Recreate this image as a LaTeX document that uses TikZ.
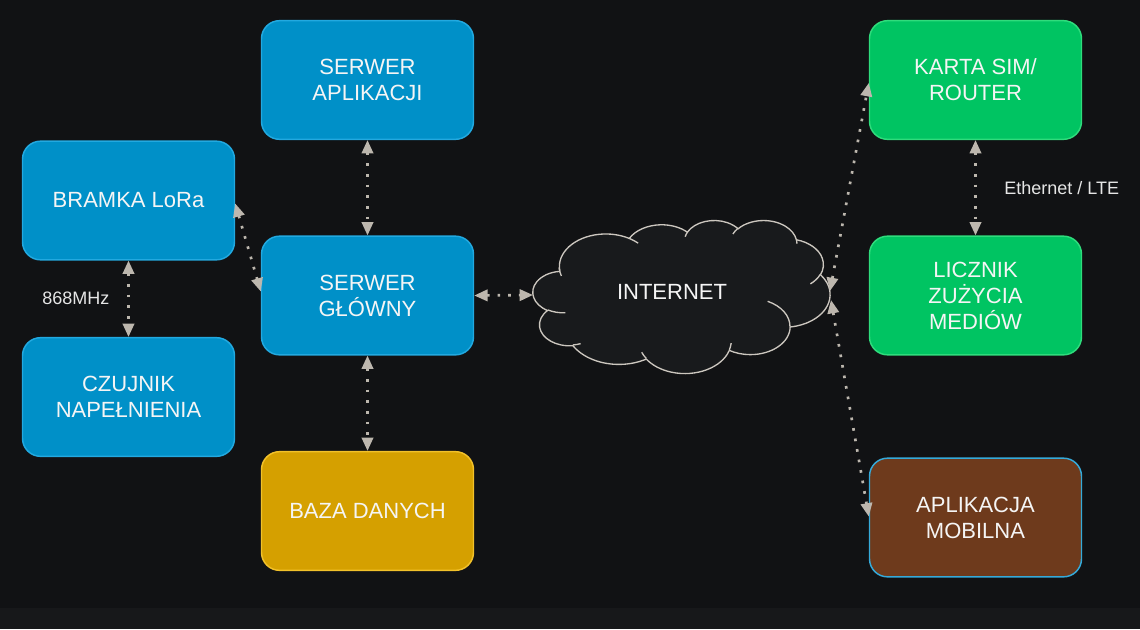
\documentclass[tikz,border=0pt]{standalone}
\usepackage{fontspec}
\setmainfont{Liberation Sans}
\usetikzlibrary{arrows.meta,calc}
\definecolor{bg}{HTML}{111214}
\definecolor{band}{HTML}{17181A}
\definecolor{bluefill}{HTML}{0090C8}
\definecolor{blueline}{HTML}{22A9E0}
\definecolor{greenfill}{HTML}{00C462}
\definecolor{greenline}{HTML}{2FDC7C}
\definecolor{yellowfill}{HTML}{D5A000}
\definecolor{yellowline}{HTML}{F2C12A}
\definecolor{brownfill}{HTML}{6E3A1C}
\definecolor{brownline}{HTML}{35AADA}
\definecolor{arrowcol}{HTML}{BDB7AE}
\definecolor{cloudfill}{HTML}{181A1C}
\definecolor{cloudline}{HTML}{CCC7BF}
\definecolor{txt}{HTML}{F5F5F5}
\definecolor{lbltxt}{HTML}{E6E6E6}
\newcommand\cloudarcdef[6]{%
  \pgfmathsetmacro#1{atan2((#3)*sin(#5),(#4)*cos(#5))}%
  \pgfmathsetmacro\cloudtmpe{atan2((#3)*sin((#5)+(#6)),(#4)*cos((#5)+(#6)))}%
  \pgfmathsetmacro#2{\cloudtmpe-#1}%
  \pgfmathsetmacro#2{#2+((#6)>0)*(#2<0)*360-((#6)<0)*(#2>0)*360}%
}
\begin{document}
\begin{tikzpicture}[x=0.75pt,y=-0.75pt,
  box/.style={rounded corners=13.5pt, line width=1.1pt, minimum width=159pt,
    minimum height=89pt, align=center, text=txt, inner sep=0pt,
    font=\fontsize{16.5}{19.5}\selectfont},
  bluebox/.style={box, fill=bluefill, draw=blueline},
  greenbox/.style={box, fill=greenfill, draw=greenline},
  yellowbox/.style={box, fill=yellowfill, draw=yellowline},
  brownbox/.style={box, fill=brownfill, draw=brownline},
  link/.style={draw=arrowcol, line width=2pt, dash pattern=on 2pt off 6pt,
    {Triangle[length=10pt,width=8.5pt]}-{Triangle[length=10pt,width=8.5pt]}},
  lbl/.style={text=lbltxt, inner sep=0pt, anchor=west,
    font=\fontsize{13.5}{16}\selectfont},
  cloudsty/.style={draw=cloudline, fill=cloudfill, line width=1pt},
  stubsty/.style={draw=cloudline, line width=1pt}
]
\fill[bg] (0,0) rectangle (1140,629);
\fill[band] (0,608) rectangle (1140,629);

% cloud (PowerPoint-style)
\begin{scope}[shift={(533,220)}, x=0.0515625pt, y=-0.0265625pt]
\cloudarcdef{\clsA}{\cldA}{675.3}{919.0}{-190.48748}{123.78053}
\cloudarcdef{\clsB}{\cldB}{533.3}{726.7}{-144.10238}{89.94523}
\cloudarcdef{\clsC}{\cldC}{436.5}{594.5}{-145.80792}{99.72302}
\cloudarcdef{\clsD}{\cldD}{485.7}{659.5}{-130.98607}{117.24173}
\cloudarcdef{\clsE}{\cldE}{533.3}{727.3}{-78.70888}{109.02692}
\cloudarcdef{\clsF}{\cldF}{677.5}{922.0}{-46.26725}{130.269}
\cloudarcdef{\clsG}{\cldG}{578.5}{786.7}{0.62502}{114.03333}
\cloudarcdef{\clsH}{\cldH}{675.2}{921.5}{22.4516}{115.17255}
\cloudarcdef{\clsI}{\cldI}{772.0}{1054.3}{66.24263}{75.71102}
\cloudarcdef{\clsJ}{\cldJ}{436.0}{591.8}{-274.94208}{146.73557}
\cloudarcdef{\clsK}{\cldK}{434.5}{594.5}{-246.8285}{152.51885}
\draw[cloudsty] (390,1437)
  arc[x radius=675.3, y radius=919.0, start angle=\clsA, delta angle=\cldA]
  arc[x radius=533.3, y radius=726.7, start angle=\clsB, delta angle=\cldB]
  arc[x radius=436.5, y radius=594.5, start angle=\clsC, delta angle=\cldC]
  arc[x radius=485.7, y radius=659.5, start angle=\clsD, delta angle=\cldD]
  arc[x radius=533.3, y radius=727.3, start angle=\clsE, delta angle=\cldE]
  arc[x radius=677.5, y radius=922.0, start angle=\clsF, delta angle=\cldF]
  arc[x radius=578.5, y radius=786.7, start angle=\clsG, delta angle=\cldG]
  arc[x radius=675.2, y radius=921.5, start angle=\clsH, delta angle=\cldH]
  arc[x radius=772.0, y radius=1054.3, start angle=\clsI, delta angle=\cldI]
  arc[x radius=436.0, y radius=591.8, start angle=\clsJ, delta angle=\cldJ]
  arc[x radius=434.5, y radius=594.5, start angle=\clsK, delta angle=\cldK]
  -- cycle;
\cloudarcdef{\stsA}{\stdA}{434.5}{594.5}{86.742}{26.4295}
\cloudarcdef{\stsB}{\stdB}{436.0}{591.8}{73.61047}{11.44747}
\cloudarcdef{\stsC}{\stdC}{675.2}{921.5}{137.62415}{14.0811}
\cloudarcdef{\stsD}{\stdD}{675.2}{921.5}{6.45327}{15.99835}
\cloudarcdef{\stsE}{\stdE}{578.5}{786.7}{-70.29235}{70.91737}
\cloudarcdef{\stsF}{\stdF}{533.3}{727.3}{30.31803}{27.7515}
\cloudarcdef{\stsG}{\stdG}{485.7}{659.5}{-13.74433}{14.8589}
\cloudarcdef{\stsH}{\stdH}{485.7}{659.5}{-149.18145}{18.19537}
\cloudarcdef{\stsI}{\stdI}{436.5}{594.5}{-163.49427}{17.68635}
\cloudarcdef{\stsJ}{\stdJ}{675.3}{919.0}{-66.70695}{12.31935}
\cloudarcdef{\stsK}{\stdK}{675.3}{919.0}{155.64718}{19.55055}
\draw[stubsty] (469.3,2617.7) arc[x radius=434.5, y radius=594.5, start angle=\stsA, delta angle=\stdA];
\draw[stubsty] (692.8,3489.9) arc[x radius=436.0, y radius=591.8, start angle=\stsB, delta angle=\stdB];
\draw[stubsty] (1647.8,3909.0) arc[x radius=675.2, y radius=921.5, start angle=\stsC, delta angle=\stdC];
\draw[stubsty] (2882.7,3475.1) arc[x radius=675.2, y radius=921.5, start angle=\stsD, delta angle=\stdD];
\draw[stubsty] (3412.9,2295.4) arc[x radius=578.5, y radius=786.7, start angle=\stsE, delta angle=\stdE];
\draw[stubsty] (4179.8,1535.4) arc[x radius=533.3, y radius=727.3, start angle=\stsF, delta angle=\stdF];
\draw[stubsty] (3832.4,542.6) arc[x radius=485.7, y radius=659.5, start angle=\stsG, delta angle=\stdG];
\draw[stubsty] (2907.8,395.2) arc[x radius=485.7, y radius=659.5, start angle=\stsH, delta angle=\stdH];
\draw[stubsty] (2214.1,472.0) arc[x radius=436.5, y radius=594.5, start angle=\stsI, delta angle=\stdI];
\draw[stubsty] (1400.0,519.2) arc[x radius=675.3, y radius=919.0, start angle=\stsJ, delta angle=\stdJ];
\draw[stubsty] (412.7,1578.9) arc[x radius=675.3, y radius=919.0, start angle=\stsK, delta angle=\stdK];
\end{scope}
\node[text=txt, inner sep=0pt, font=\fontsize{16.5}{19.5}\selectfont] (internet) at (672,292) {INTERNET};
\coordinate (cloudW) at (533,295);
\coordinate (cloudE1) at (830,291);
\coordinate (cloudE2) at (831,300);

% boxes
\node[bluebox] (sa) at (367.5,80) {SERWER\\APLIKACJI};
\node[bluebox] (br) at (128.5,200.5) {BRAMKA LoRa};
\node[bluebox] (sg) at (367.5,295.5) {SERWER\\GŁÓWNY};
\node[bluebox] (cz) at (128.5,397) {CZUJNIK\\NAPEŁNIENIA};
\node[yellowbox] (baza) at (367.5,511) {BAZA DANYCH};
\node[greenbox] (ks) at (975.5,80) {KARTA SIM/\\ROUTER};
\node[greenbox] (lz) at (975.5,295.5) {LICZNIK\\ZUŻYCIA\\MEDIÓW};
\node[brownbox] (am) at (975.5,517.5) {APLIKACJA\\MOBILNA};

% labels
\node[lbl] (l868) at (42,298) {868MHz};
\node[lbl] (leth) at (1004,188) {Ethernet / LTE};

% connectors
\draw[link] (sa.south) -- (sg.north);
\draw[link] ($(br.east)+(0,3)$) -- ($(sg.west)+(0,-4)$);
\draw[link] (br.south) -- (cz.north);
\draw[link] (sg.south) -- (baza.north);
\draw[link] (sg.east) -- (cloudW);
\draw[link] (cloudE1) -- ($(ks.west)+(0,3)$);
\draw[link] (cloudE2) -- ($(am.west)+(0,-1)$);
\draw[link] (ks.south) -- (lz.north);
\end{tikzpicture}
\end{document}
